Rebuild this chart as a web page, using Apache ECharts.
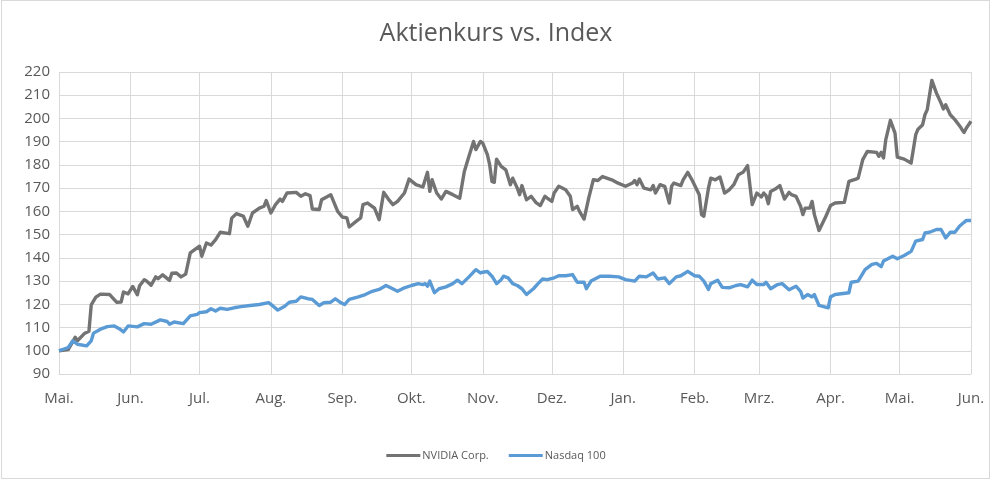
<!DOCTYPE html>
<html>
<head>
<meta charset="utf-8">
<title>Aktienkurs vs. Index</title>
<script src="https://cdn.jsdelivr.net/npm/echarts@6/dist/echarts.min.js"></script>
<style>
    html, body { margin: 0; padding: 0; background: #fff; }
    #wrap { position: relative; width: 992px; height: 480px; }
    #chart { width: 992px; height: 480px; }
    #frame { position: absolute; left: 1px; top: 0; width: 987px; height: 477px; border: 1px solid #d9d9d9; pointer-events: none; }
</style>
</head>
<body>
<div id="wrap">
    <div id="chart"></div>
    <div id="frame"></div>
</div>
<script>
// x-Achse: Kalendertage ab 1. Mai, Beschriftung am Monatsanfang
var monthLabels = ['Mai.', 'Jun.', 'Jul.', 'Aug.', 'Sep.', 'Okt.', 'Nov.', 'Dez.', 'Jan.', 'Feb.', 'Mrz.', 'Apr.', 'Mai.', 'Jun.'];
var monthStartDays = [0, 31, 61, 92, 123, 153, 184, 214, 245, 276, 304, 335, 365, 396];

// NVIDIA Corp. (indexiert, Start = 100)
var nvidiaDays = [0, 4, 7, 8, 11, 13, 14, 16, 18, 22, 25, 27, 28, 30, 32, 34, 35, 37, 38, 40,
    42, 43, 45, 48, 49, 51, 53, 55, 57, 61, 62, 64, 66, 68, 70, 74, 75, 77, 80, 82,
    84, 87, 89, 90, 92, 94, 96, 97, 99, 103, 105, 107, 109, 110, 113, 114, 118, 121, 123, 125,
    126, 129, 131, 132, 134, 137, 139, 141, 143, 145, 147, 150, 152, 155, 158, 160, 161, 162, 164, 166,
    168, 171, 174, 176, 178, 180, 181, 183, 184, 186, 187, 188, 189, 190, 192, 194, 196, 197, 199, 200,
    201, 203, 205, 207, 209, 211, 212, 214, 215, 217, 220, 222, 223, 225, 226, 228, 230, 232, 234, 236,
    240, 242, 246, 249, 250, 251, 252, 254, 257, 258, 259, 261, 263, 265, 266, 267, 270, 271, 273, 275,
    278, 279, 280, 282, 283, 285, 287, 289, 291, 293, 295, 297, 299, 301, 303, 305, 306, 307, 308, 309,
    311, 313, 315, 317, 318, 320, 322, 323, 324, 326, 327, 328, 330, 333, 335, 337, 341, 343, 346, 347,
    349, 351, 355, 356, 357, 358, 359, 361, 363, 364, 367, 370, 372, 373, 375, 376, 377, 379, 381, 383,
    384, 385, 387, 389, 391, 392, 393, 394, 396];
var nvidiaValues = [100, 100.5, 105.8, 104.3, 107.4, 108.4, 119.8, 123.1, 124.4, 124.2, 120.9, 121, 125.3, 124.5, 127.7, 124.1, 128, 130.6, 130, 128.2,
    131.8, 131, 132.7, 130.3, 133.4, 133.5, 131.8, 133, 142.1, 145, 140.7, 146.4, 145.5, 147.8, 151, 150.4, 157.1, 159, 158, 153.6,
    159.3, 161.4, 162.2, 164.7, 159.3, 162.9, 165.3, 164.3, 167.9, 168.2, 166.5, 167.6, 166.8, 161, 160.8, 165, 167.2, 160, 157.6, 157.2,
    153.3, 155.7, 157.2, 162.9, 163.6, 161.4, 156.4, 168.2, 165.3, 162.9, 164.3, 167.9, 173.9, 171.5, 170.5, 176.8, 168.6, 173.6, 167.9, 165.3,
    168.6, 167.2, 165.7, 177.2, 183.7, 190.1, 186.6, 190.1, 189.4, 184.4, 180.1, 172.9, 172.5, 182.5, 179.4, 177.9, 171.5, 174.3, 170, 167.2,
    171.1, 165, 166.5, 163.9, 162.5, 166.5, 165.7, 164.3, 167.9, 170.8, 169.3, 166.5, 160.8, 162.2, 160, 156.7, 165.7, 173.6, 173.3, 175,
    173.6, 172.5, 170.8, 172.2, 173.3, 171.5, 173.9, 170, 169.3, 171.1, 167.9, 171.5, 170.8, 163.6, 170.8, 172.2, 171.1, 173.6, 176.8, 173.3,
    167.2, 158.6, 157.9, 170, 174.3, 173.6, 174.8, 167.9, 169.3, 171.5, 175.8, 176.8, 179.7, 162.9, 167.9, 166.2, 167.9, 166.8, 163.3, 168.6,
    169.6, 171.1, 165.3, 168.2, 167.2, 166.5, 162.2, 158.6, 161.4, 161.4, 164.3, 158.6, 151.8, 157.9, 162.5, 163.6, 163.9, 172.9, 173.9, 174.3,
    182.3, 185.8, 185.4, 183.7, 185.4, 183, 190.9, 199.2, 193.7, 183.4, 182.5, 180.8, 193, 195.4, 197.3, 201.6, 203.8, 216.4, 210.9, 206.6,
    204.1, 205.9, 201.6, 199.5, 196.9, 195.4, 194, 195.9, 198.8];

// Nasdaq 100 (indexiert, Start = 100)
var nasdaqDays = [0, 4, 6, 8, 12, 14, 15, 18, 21, 24, 26, 28, 30, 34, 37, 40, 44, 47, 48, 50,
    54, 57, 60, 61, 64, 66, 68, 70, 73, 76, 79, 83, 87, 91, 93, 95, 98, 100, 103, 105,
    108, 110, 113, 115, 118, 120, 122, 124, 126, 130, 133, 136, 139, 142, 144, 147, 150, 153, 156, 158,
    159, 160, 161, 163, 165, 168, 171, 173, 175, 178, 181, 183, 184, 186, 188, 190, 192, 193, 195, 197,
    199, 201, 203, 206, 208, 210, 212, 215, 217, 220, 223, 225, 228, 229, 231, 235, 239, 243, 246, 250,
    252, 255, 258, 260, 263, 265, 268, 270, 273, 276, 278, 280, 282, 283, 286, 288, 291, 294, 296, 299,
    301, 303, 306, 307, 309, 312, 314, 317, 320, 322, 323, 325, 327, 328, 330, 334, 335, 337, 343, 344,
    347, 350, 353, 355, 357, 358, 362, 364, 367, 370, 372, 375, 376, 378, 381, 383, 385, 387, 389, 391,
    393, 394, 396];
var nasdaqValues = [100, 101.4, 104.3, 102.8, 102.1, 104.3, 107.6, 109.3, 110.4, 110.7, 109.6, 108.1, 110.7, 110.3, 111.7, 111.4, 113.3, 112.6, 111.4, 112.4,
    111.7, 115, 115.7, 116.4, 116.8, 118.1, 117.1, 118.3, 117.8, 118.5, 119, 119.5, 119.9, 120.7, 119.2, 117.5, 119.2, 120.9, 121.3, 123.2,
    122.4, 122.1, 119.5, 120.7, 120.9, 122.4, 120.9, 119.9, 122.1, 123.2, 124.2, 125.6, 126.4, 128.1, 127.1, 125.6, 127.1, 128.1, 128.9, 128.5,
    128.9, 127.8, 130, 125, 126.7, 127.5, 128.9, 130.4, 128.9, 131.8, 134.9, 133.5, 133.8, 134.1, 132.1, 128.9, 130.6, 132.1, 131.4, 128.9,
    128.1, 126.7, 124.2, 126.7, 128.9, 130.9, 130.6, 131.4, 132.3, 132.3, 132.8, 129.5, 129.5, 126.7, 130, 132.1, 132.1, 131.8, 130.6, 130,
    132.1, 131.8, 133.5, 130.9, 131.4, 128.9, 131.8, 132.3, 134.2, 132.3, 132.1, 130, 126.4, 128.9, 130.4, 127.3, 127.1, 128.1, 128.5, 127.5,
    130.4, 128.5, 128.5, 129.5, 126.7, 128.5, 128.9, 126.3, 127.8, 125.6, 122.7, 124.2, 123.2, 124.2, 119.5, 118.5, 123.2, 124.2, 125, 129.5,
    130, 134.9, 137.2, 137.6, 136.2, 138.6, 140.7, 139.6, 141, 142.8, 147.2, 147.9, 150.7, 151, 152.2, 152.2, 148.6, 151, 151, 153.6,
    155.3, 156.1, 156.1];

var yMin = 90, yMax = 220, yStep = 10;

var dayCategories = [];
for (var d = 0; d <= monthStartDays[monthStartDays.length - 1]; d++) {
    dayCategories.push(String(d));
}

function isMonthStart(index) {
    return monthStartDays.indexOf(index) >= 0;
}

function toPairs(days, values) {
    return days.map(function (day, i) { return [day, values[i]]; });
}

var textColor = '#595959';
var gridColor = '#d9d9d9';
var fontFamily = '"Open Sans", "Noto Sans", sans-serif';

var myChart = echarts.init(document.getElementById('chart'), null, { renderer: 'canvas' });

var option = {
    animation: false,
    backgroundColor: '#fff',
    title: {
        text: 'Aktienkurs vs. Index',
        left: 'center',
        top: 16,
        textStyle: {
            color: textColor,
            fontSize: 25,
            fontWeight: 'normal',
            fontFamily: fontFamily
        }
    },
    legend: {
        bottom: 14,
        left: 'center',
        icon: 'rect',
        itemWidth: 34,
        itemHeight: 3,
        itemGap: 20,
        textStyle: {
            color: textColor,
            fontSize: 11,
            fontFamily: fontFamily,
            padding: [0, 0, 0, -3]
        },
        data: ['NVIDIA Corp.', 'Nasdaq 100']
    },
    grid: {
        left: 59,
        right: 21,
        top: 72,
        bottom: 106,
        containLabel: false
    },
    xAxis: {
        type: 'category',
        boundaryGap: false,
        data: dayCategories,
        axisLine: { show: true, lineStyle: { color: gridColor, width: 1 } },
        axisTick: { show: false },
        axisLabel: {
            interval: function (index) { return isMonthStart(index); },
            formatter: function (value) {
                return monthLabels[monthStartDays.indexOf(Number(value))];
            },
            color: textColor,
            fontSize: 15,
            fontFamily: fontFamily,
            margin: 17
        },
        splitLine: {
            show: true,
            interval: function (index) { return isMonthStart(index); },
            lineStyle: { color: gridColor, width: 1 }
        }
    },
    yAxis: {
        type: 'value',
        min: yMin,
        max: yMax,
        interval: yStep,
        axisLine: { show: false },
        axisTick: { show: false },
        axisLabel: {
            color: textColor,
            fontSize: 15,
            fontFamily: fontFamily,
            margin: 9
        },
        splitLine: { lineStyle: { color: gridColor, width: 1 } }
    },
    series: [
        {
            name: 'NVIDIA Corp.',
            type: 'line',
            symbol: 'none',
            data: toPairs(nvidiaDays, nvidiaValues),
            itemStyle: { color: '#737373' },
            lineStyle: { color: '#737373', width: 3.4, join: 'round' }
        },
        {
            name: 'Nasdaq 100',
            type: 'line',
            symbol: 'none',
            data: toPairs(nasdaqDays, nasdaqValues),
            itemStyle: { color: '#5b9bd5' },
            lineStyle: { color: '#5b9bd5', width: 3.4, join: 'round' }
        }
    ]
};

myChart.setOption(option);
</script>
</body>
</html>
